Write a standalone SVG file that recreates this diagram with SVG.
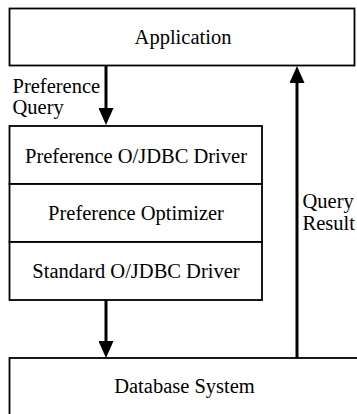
<svg xmlns="http://www.w3.org/2000/svg" width="357" height="414" viewBox="0 0 357 414">
  <style>
    .box { fill: #ffffff; stroke: #000000; stroke-width: 1.8; }
    .lbl { font-family: 'Liberation Serif', 'Times New Roman', serif; font-size: 20.5px; fill: #000000; }
    .mid { text-anchor: middle; }
    .conn { stroke: #000000; stroke-width: 3; fill: none; marker-end: url(#ah); }
  </style>
  <defs>
    <marker id="ah" markerUnits="userSpaceOnUse" viewBox="0 0 17 15" markerWidth="17" markerHeight="15" refX="9" refY="7.5" orient="auto">
      <path d="M0,0 L17,7.5 L0,15 z" fill="#000000"/>
    </marker>
  </defs>

  <g id="application">
    <rect class="box" x="9.5" y="8.5" width="345" height="57"/>
    <text class="lbl mid" x="183" y="43.5">Application</text>
  </g>

  <g id="pref-driver">
    <rect class="box" x="9.5" y="126" width="252.5" height="58"/>
    <text class="lbl mid" x="136" y="162.5">Preference O/JDBC Driver</text>
  </g>
  <g id="pref-optimizer">
    <rect class="box" x="9.5" y="184" width="252.5" height="58"/>
    <text class="lbl mid" x="136" y="220">Preference Optimizer</text>
  </g>
  <g id="std-driver">
    <rect class="box" x="9.5" y="242" width="252.5" height="58"/>
    <text class="lbl mid" x="136" y="278">Standard O/JDBC Driver</text>
  </g>

  <g id="database">
    <rect class="box" x="9.5" y="358" width="360" height="80"/>
    <text class="lbl mid" x="184.5" y="393">Database System</text>
  </g>

  <g id="connectors">
    <line class="conn" x1="106" y1="65.5" x2="106" y2="117"/>
    <line class="conn" x1="106" y1="300" x2="106" y2="350"/>
    <line class="conn" x1="297" y1="358" x2="297" y2="74"/>
    <text class="lbl" x="12.5" y="93">Preference</text>
    <text class="lbl" x="12.5" y="114">Query</text>
    <text class="lbl" x="302.5" y="208">Query</text>
    <text class="lbl" x="302.5" y="230">Result</text>
  </g>
</svg>
